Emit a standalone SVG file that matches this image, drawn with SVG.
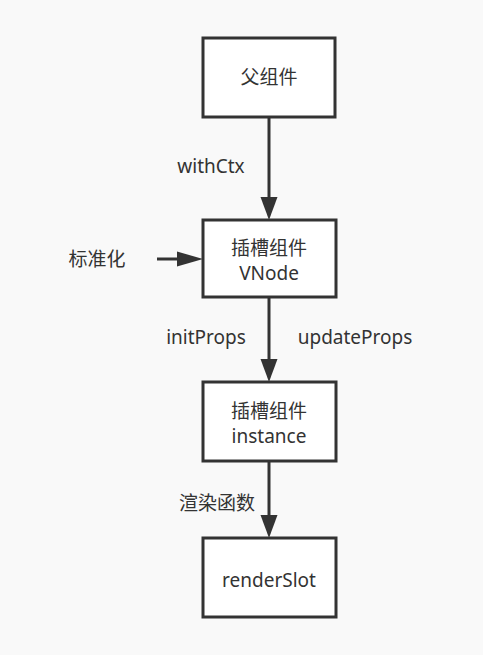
<svg xmlns="http://www.w3.org/2000/svg" width="483" height="655" viewBox="0 0 483 655">
<defs>
<style>
.box{fill:#ffffff;stroke:#333333;stroke-width:3}
.t{font-family:"Noto Sans","Noto Sans CJK SC",sans-serif;font-size:19px;fill:#333333;text-anchor:middle}
.edge{stroke:#333333;stroke-width:3;fill:none}
.head{fill:#333333}
</style>
</defs>
<rect width="483" height="655" fill="#f9f9f9"/>
<g id="edges">
<line class="edge" x1="269" y1="118" x2="269" y2="200"/>
<polygon class="head" points="260.5,197 277.5,197 269,220"/>
<line class="edge" x1="157" y1="259" x2="180" y2="259"/>
<polygon class="head" points="177,251.5 177,266.5 203,259"/>
<line class="edge" x1="269" y1="298" x2="269" y2="362"/>
<polygon class="head" points="260.5,359 277.5,359 269,382"/>
<line class="edge" x1="269" y1="462" x2="269" y2="518"/>
<polygon class="head" points="260.5,515 277.5,515 269,538"/>
<text class="t" x="211" y="173">withCtx</text>
<text class="t" x="97" y="266">标准化</text>
<text class="t" x="206" y="344">initProps</text>
<text class="t" x="355" y="344">updateProps</text>
<text class="t" x="217" y="510">渲染函数</text>
</g>
<g id="node-parent">
<rect class="box" x="203" y="38" width="132" height="79"/>
<text class="t" x="269" y="84">父组件</text>
</g>
<g id="node-vnode">
<rect class="box" x="203" y="220" width="133" height="77"/>
<text class="t" x="269" y="255">插槽组件</text>
<text class="t" x="269" y="280">VNode</text>
</g>
<g id="node-instance">
<rect class="box" x="203" y="382" width="133" height="79"/>
<text class="t" x="269" y="418">插槽组件</text>
<text class="t" x="269" y="443">instance</text>
</g>
<g id="node-renderslot">
<rect class="box" x="203" y="538" width="133" height="79"/>
<text class="t" x="269" y="587">renderSlot</text>
</g>
</svg>
